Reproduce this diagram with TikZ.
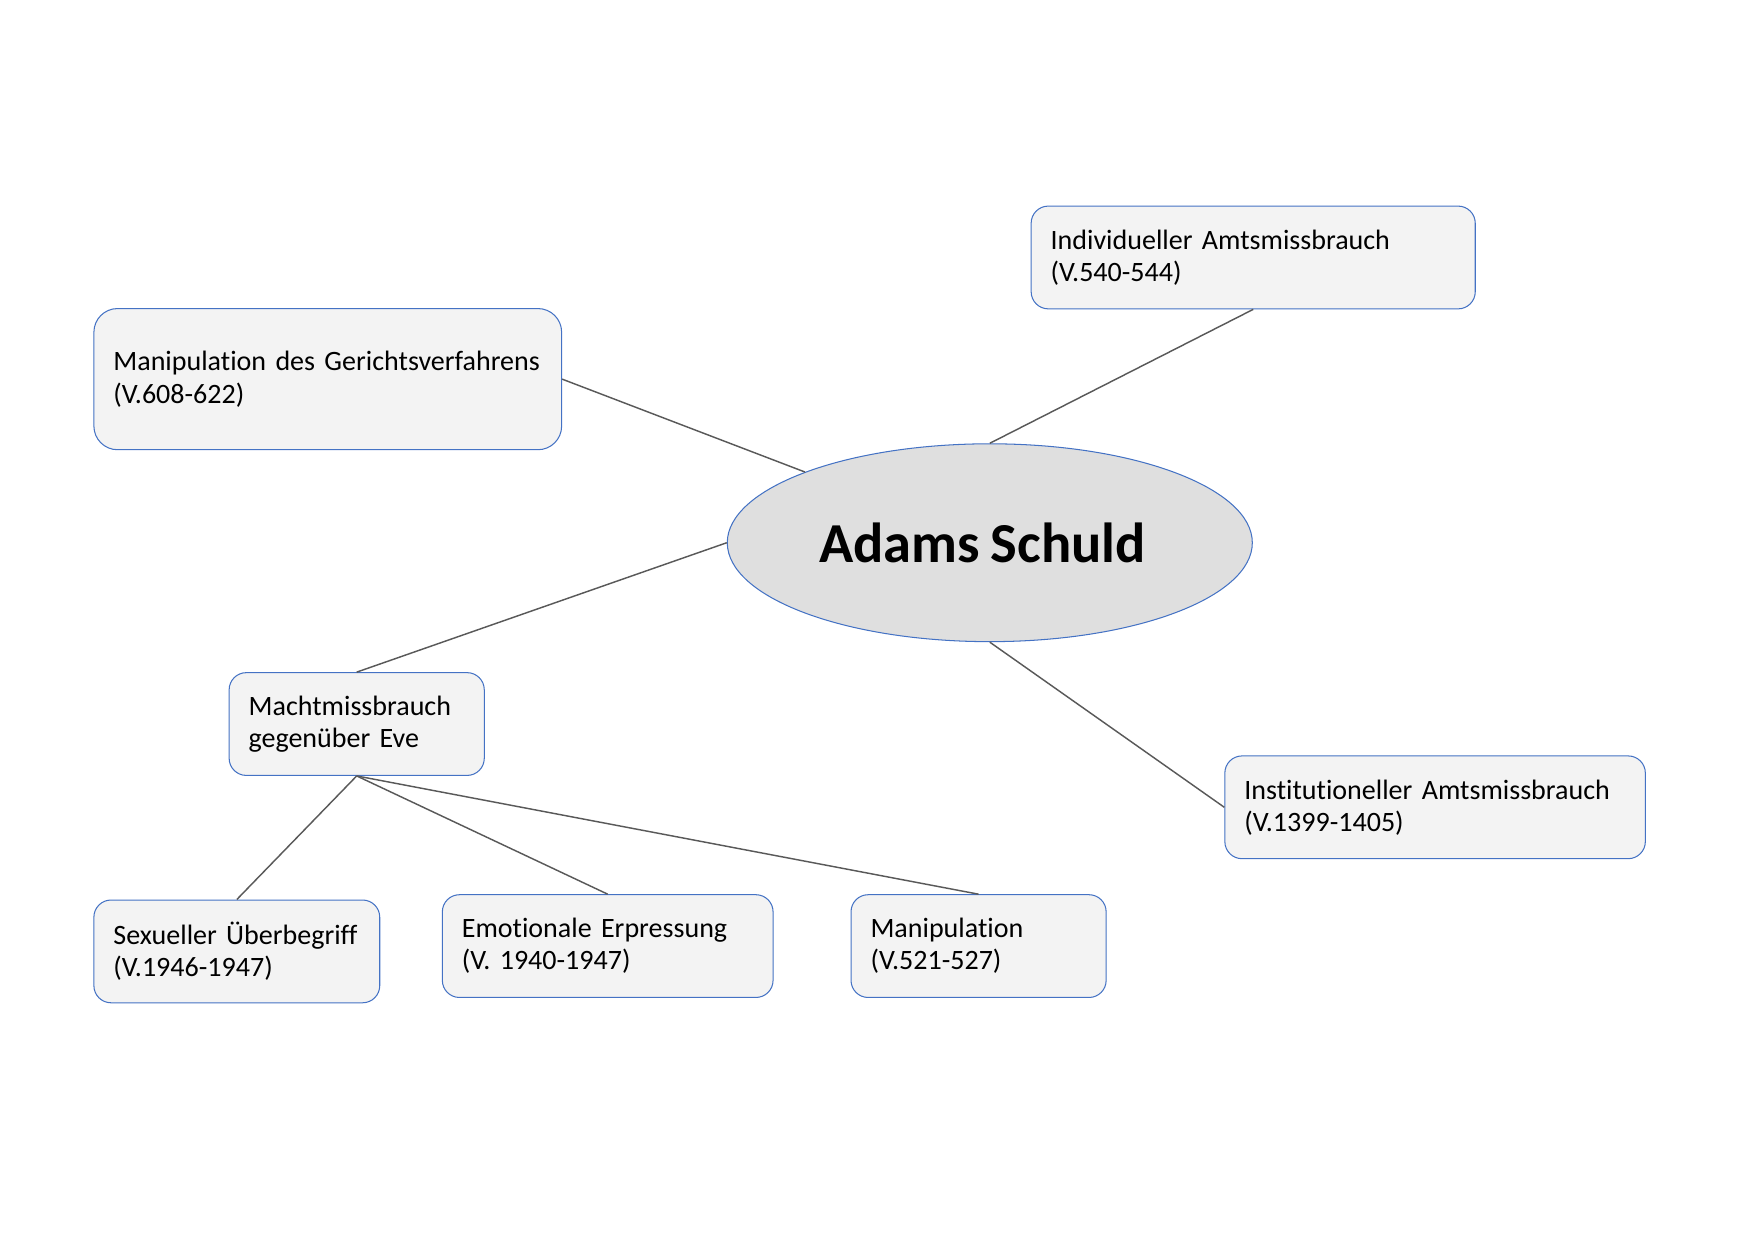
\documentclass[tikz,border=0pt]{standalone}
\usepackage{fontspec}
\setmainfont{Carlito}[Ligatures=NoCommon, WordSpace=0.85]
\usetikzlibrary{shapes.geometric}
\definecolor{rimblue}{RGB}{68,114,196}
\definecolor{boxgray}{RGB}{243,243,243}
\definecolor{ellgray}{RGB}{223,223,223}
\definecolor{linkgray}{RGB}{89,89,89}
\tikzset{
    topic/.style={draw=rimblue, fill=boxgray, line width=0.5pt,
        rounded corners=0.29cm, align=left, inner xsep=0.33cm, inner ysep=0pt,
        minimum height=1.74cm, font=\fontsize{13.5}{15.5}\selectfont},
    link/.style={draw=linkgray, line width=0.7pt}
}
\begin{document}
\begin{tikzpicture}
    \useasboundingbox (0,0) rectangle (29.7,21.01);
    % Central ellipse with the main theme
    \node[ellipse, draw=rimblue, fill=ellgray, line width=0.5pt,
        minimum width=8.89cm, minimum height=3.35cm,
        font=\fontsize{27.2}{32}\selectfont\bfseries] (adam) at (16.76,11.82) {Adams Schuld\kern0.25cm};
    % The four branches round the centre
    \node[topic, rounded corners=0.4cm, text width=7.26cm, minimum height=2.39cm] (gericht) at (5.55,14.59)
        {Manipulation des Gerichtsverfahrens\\(V.608-622)};
    \node[topic, text width=6.86cm] (individuell) at (21.22,16.65)
        {Individueller Amtsmissbrauch\\(V.540-544)};
    \node[topic, text width=3.66cm] (macht) at (6.04,8.75)
        {Machtmissbrauch\\gegenüber Eve};
    \node[topic, text width=6.46cm] (institutionell) at (24.30,7.34)
        {Institutioneller Amtsmissbrauch\\(V.1399-1405)};
    % The three leaves below the Machtmissbrauch node
    \node[topic, text width=4.18cm] (sexuell) at (4.01,4.90)
        {Sexueller Überbegriff\\(V.1946-1947)};
    \node[topic, text width=4.94cm] (erpressung) at (10.29,4.99)
        {Emotionale Erpressung\\(V. 1940-1947)};
    \node[topic, text width=3.66cm] (manipulation) at (16.57,4.99)
        {Manipulation\\(V.521-527)};
    % Connectors
    \draw[link] (gericht.east) -- (adam);
    \draw[link] (individuell.south) -- (adam.north);
    \draw[link] (macht.north) -- (adam.west);
    \draw[link] (adam.south) -- (institutionell.west);
    \draw[link] (macht.south) -- (sexuell.north);
    \draw[link] (macht.south) -- (erpressung.north);
    \draw[link] (macht.south) -- (manipulation.north);
\end{tikzpicture}
\end{document}
